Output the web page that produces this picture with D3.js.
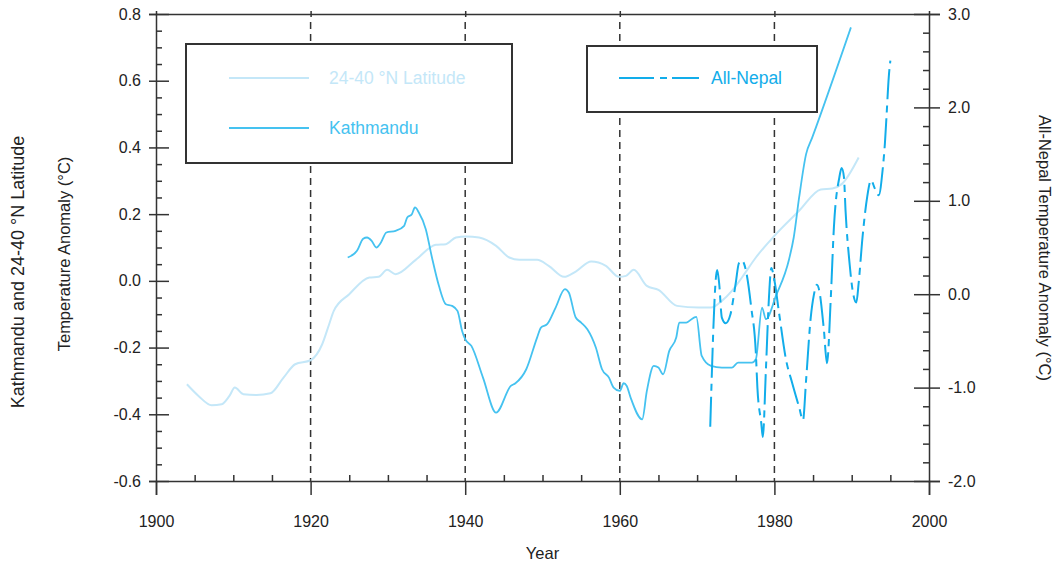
<!DOCTYPE html>
<html><head><meta charset="utf-8">
<script src="https://cdn.jsdelivr.net/npm/d3@7"></script>
<style>
body{margin:0;background:#fff;}
svg{display:block;font-family:"Liberation Sans",Arial,Helvetica,sans-serif;}
</style></head>
<body><svg id="c" width="1059" height="568"></svg>
<script>
// ---- data ----
const latYears = [1904.0,1905.5,1907.2,1908.5,1909.5,1910.2,1911.3,1913.0,1914.8,1916.5,1918.0,1920.0,1921.5,1922.4,1923.0,1925.0,1927.6,1928.8,1929.9,1931.0,1933.6,1936.2,1937.5,1938.8,1940.1,1941.8,1944.0,1945.7,1947.0,1949.3,1950.8,1952.8,1954.3,1956.3,1958.2,1959.9,1960.8,1961.8,1963.5,1965.0,1967.4,1970.2,1971.8,1973.2,1974.5,1975.8,1977.6,1980.0,1983.2,1986.0,1987.5,1988.7,1990.9];
const latValues = [-0.31,-0.345,-0.373,-0.37,-0.345,-0.32,-0.34,-0.342,-0.337,-0.29,-0.25,-0.238,-0.19,-0.13,-0.09,-0.04,0.01,0.012,0.033,0.02,0.063,0.108,0.11,0.13,0.133,0.13,0.105,0.07,0.063,0.063,0.045,0.012,0.028,0.058,0.045,0.012,0.015,0.033,-0.015,-0.027,-0.075,-0.08,-0.08,-0.06,-0.03,0.01,0.07,0.135,0.21,0.274,0.277,0.29,0.37];

const ktmYears = [1924.8,1926.0,1926.8,1927.3,1927.9,1928.5,1929.1,1929.8,1931.0,1932.1,1932.5,1933.1,1933.5,1934.0,1934.9,1935.7,1936.6,1937.5,1938.3,1939.0,1939.6,1940.0,1940.8,1942.3,1944.0,1945.9,1946.5,1947.9,1949.3,1949.8,1950.6,1951.7,1952.9,1953.4,1954.3,1955.0,1955.8,1956.9,1957.7,1958.6,1959.2,1960.0,1960.5,1960.9,1961.4,1962.9,1963.5,1964.4,1965.0,1965.6,1966.4,1967.3,1967.7,1968.6,1969.6,1969.9,1970.6,1971.8,1973.2,1974.5,1975.3,1977.1,1977.6,1978.4,1978.9,1980.2,1981.9,1982.5,1983.2,1984.1,1984.9,1989.9];
const ktmValues = [0.07,0.09,0.126,0.13,0.12,0.10,0.115,0.145,0.15,0.165,0.19,0.20,0.22,0.205,0.155,0.07,-0.015,-0.07,-0.075,-0.09,-0.15,-0.175,-0.195,-0.29,-0.395,-0.315,-0.307,-0.265,-0.17,-0.14,-0.13,-0.08,-0.025,-0.035,-0.11,-0.125,-0.145,-0.2,-0.265,-0.29,-0.32,-0.33,-0.307,-0.315,-0.35,-0.415,-0.33,-0.255,-0.26,-0.28,-0.21,-0.17,-0.125,-0.125,-0.11,-0.108,-0.225,-0.255,-0.26,-0.26,-0.245,-0.245,-0.235,-0.08,-0.115,-0.045,0.065,0.13,0.25,0.38,0.43,0.76];

const nepYears = [1971.7,1972.6,1972.85,1973.2,1973.7,1974.3,1975.0,1975.4,1975.8,1976.3,1977.0,1977.6,1977.8,1978.3,1978.5,1978.9,1979.3,1979.6,1980.0,1980.6,1981.5,1982.3,1983.2,1983.7,1984.1,1984.7,1985.1,1985.5,1985.8,1986.4,1986.8,1987.3,1987.7,1988.4,1988.7,1989.0,1989.2,1989.7,1990.1,1990.6,1990.9,1991.4,1992.0,1992.5,1993.0,1993.5,1994.0,1994.3,1994.5,1994.8,1995.0];
const nepValues = [-1.42,0.26,0.12,-0.25,-0.31,-0.22,0.12,0.33,0.36,0.26,-0.14,-0.63,-1.0,-1.38,-1.53,-0.81,-0.03,0.28,0.15,-0.2,-0.7,-0.95,-1.21,-1.35,-0.92,-0.25,-0.01,0.1,0.04,-0.38,-0.74,-0.03,0.72,1.25,1.35,1.25,0.9,0.35,0.05,-0.09,0.12,0.61,1.04,1.22,1.13,1.06,1.33,1.62,1.9,2.33,2.5];

const xTicks = [1900,1920,1940,1960,1980,2000];
const xMinorTicks = [1905,1910,1915,1925,1930,1935,1945,1950,1955,1965,1970,1975,1985,1990,1995];
const refYears = [1920,1940,1960,1980];
const leftTicks = [-0.6,-0.4,-0.2,0.0,0.2,0.4,0.6,0.8];
const leftMinorTicks = [-0.55,-0.5,-0.45,-0.35,-0.3,-0.25,-0.15,-0.1,-0.05,0.05,0.1,0.15,0.25,0.3,0.35,0.45,0.5,0.55,0.65,0.7,0.75];
const rightTicks = [-2,-1,0,1,2,3];
const rightMinorTicks = [-1.8,-1.6,-1.4,-1.2,-0.8,-0.6,-0.4,-0.2,0.2,0.4,0.6,0.8,1.2,1.4,1.6,1.8,2.2,2.4,2.6,2.8];
const seriesNames = ["24-40 \u00B0N Latitude","Kathmandu","All-Nepal"];

// ---- drawing ----
const svg = d3.select("#c");
const L = 156, R = 929, T = 14, B = 481;
const x = d3.scaleLinear([1900,2000],[L,R]);
const yL = d3.scaleLinear([-0.6,0.8],[B,T]);
const yR = d3.scaleLinear([-2,3],[B,T]);
const axisColor = "#333";
const cLat = "#c4e7f8", cKtm = "#45c2f0", cNep = "#12adea";

function styleAxis(g){
  g.selectAll("path.domain").attr("stroke",axisColor).attr("stroke-width",1.5);
  g.selectAll(".tick line").attr("stroke",axisColor).attr("stroke-width",1.5);
  g.selectAll(".tick text").attr("fill","#222").attr("font-size",16).attr("font-family","Liberation Sans, Arial, sans-serif");
}
const fmt1 = d => d.toFixed(1);

// top frame line + ticks
svg.append("g").attr("transform",`translate(0,${T})`)
  .call(d3.axisTop(x).tickValues(refYears).tickSize(3).tickFormat(""))
  .call(g=>{styleAxis(g);});
svg.append("g").attr("transform",`translate(0,${T})`)
  .call(d3.axisBottom(x).tickValues(refYears).tickSize(3).tickFormat(""))
  .call(g=>{styleAxis(g);g.select(".domain").remove();});

// dashed reference lines
svg.append("g").selectAll("line").data(refYears).join("line")
  .attr("x1",d=>x(d)).attr("x2",d=>x(d)).attr("y1",T+8).attr("y2",B)
  .attr("stroke",axisColor).attr("stroke-width",1.5).attr("stroke-dasharray","7,5");

// bottom axis
svg.append("g").attr("transform",`translate(0,${B})`)
  .call(d3.axisBottom(x).tickValues(xTicks).tickSize(14).tickPadding(21).tickFormat(d3.format("d")))
  .call(styleAxis);
svg.append("g").attr("transform",`translate(0,${B})`)
  .call(d3.axisTop(x).tickValues(xMinorTicks).tickSize(6).tickFormat(""))
  .call(g=>{styleAxis(g);g.select(".domain").remove();});

// left axis
svg.append("g").attr("transform",`translate(${L},0)`)
  .call(d3.axisLeft(yL).tickValues(leftTicks).tickSize(7).tickPadding(8).tickFormat(fmt1))
  .call(styleAxis);
svg.append("g").attr("transform",`translate(${L},0)`)
  .call(d3.axisRight(yL).tickValues(leftTicks).tickSize(13).tickFormat(""))
  .call(g=>{styleAxis(g);g.select(".domain").remove();});
svg.append("g").attr("transform",`translate(${L},0)`)
  .call(d3.axisRight(yL).tickValues(leftMinorTicks).tickSize(6).tickFormat(""))
  .call(g=>{styleAxis(g);g.select(".domain").remove();});

// right axis
svg.append("g").attr("transform",`translate(${R},0)`)
  .call(d3.axisRight(yR).tickValues(rightTicks).tickSize(11).tickPadding(8).tickFormat(fmt1))
  .call(styleAxis);
svg.append("g").attr("transform",`translate(${R},0)`)
  .call(d3.axisLeft(yR).tickValues(rightTicks).tickSize(15).tickFormat(""))
  .call(g=>{styleAxis(g);g.select(".domain").remove();});
svg.append("g").attr("transform",`translate(${R},0)`)
  .call(d3.axisLeft(yR).tickValues(rightMinorTicks).tickSize(6).tickFormat(""))
  .call(g=>{styleAxis(g);g.select(".domain").remove();});

// axis titles
const tf = "Liberation Sans, Arial, sans-serif";
svg.append("text").attr("x",(L+R)/2).attr("y",559).attr("text-anchor","middle")
  .attr("font-size",16.5).attr("font-family",tf).attr("fill","#222").text("Year");
svg.append("text").attr("transform","translate(24,272) rotate(-90)").attr("text-anchor","middle")
  .attr("font-size",18).attr("font-family",tf).attr("fill","#222").text("Kathmandu and 24-40 \u00B0N Latitude");
svg.append("text").attr("transform","translate(70,254) rotate(-90)").attr("text-anchor","middle")
  .attr("font-size",16.5).attr("font-family",tf).attr("fill","#222").text("Temperature Anomaly (\u00B0C)");
svg.append("text").attr("transform","translate(1039,248) rotate(90)").attr("text-anchor","middle")
  .attr("font-size",16.5).attr("font-family",tf).attr("fill","#222").text("All-Nepal Temperature Anomaly (\u00B0C)");

// series
const curve = d3.curveMonotoneX;
const lineL = d3.line().x(d=>x(d[0])).y(d=>yL(d[1])).curve(curve);
const lineR = d3.line().x(d=>x(d[0])).y(d=>yR(d[1])).curve(curve);
const latData = d3.zip(latYears, latValues);
const ktmData = d3.zip(ktmYears, ktmValues);
const nepData = d3.zip(nepYears, nepValues);

svg.append("path").datum(latData).attr("d",lineL).attr("fill","none").attr("stroke",cLat).attr("stroke-width",2);
svg.append("path").datum(ktmData).attr("d",lineL).attr("fill","none").attr("stroke",cKtm).attr("stroke-width",1.8);
svg.append("path").datum(nepData).attr("d",lineR).attr("fill","none").attr("stroke",cNep).attr("stroke-width",2)
  .attr("stroke-dasharray","30,6,7,6");

// legends
svg.append("rect").attr("x",186).attr("y",44).attr("width",326).attr("height",119)
  .attr("fill","#fff").attr("stroke",axisColor).attr("stroke-width",2);
svg.append("rect").attr("x",587).attr("y",46).attr("width",230).attr("height",66)
  .attr("fill","#fff").attr("stroke",axisColor).attr("stroke-width",2);

const legendItems = [
  {name:seriesNames[0], color:cLat, x1:229, x2:309, tx:329, y:78, dash:null},
  {name:seriesNames[1], color:cKtm, x1:229, x2:309, tx:329, y:128, dash:null},
  {name:seriesNames[2], color:cNep, x1:619, x2:699, tx:711, y:78, dash:"35,6,7,5"}
];
const lg = svg.append("g").selectAll("g").data(legendItems).join("g");
lg.append("line").attr("x1",d=>d.x1).attr("x2",d=>d.x2).attr("y1",d=>d.y).attr("y2",d=>d.y)
  .attr("stroke",d=>d.color).attr("stroke-width",2).attr("stroke-dasharray",d=>d.dash);
lg.append("text").attr("x",d=>d.tx).attr("y",d=>d.y).attr("dy","0.36em")
  .attr("font-size",17.5).attr("font-family",tf).attr("fill",d=>d.color).text(d=>d.name);
</script></body></html>
